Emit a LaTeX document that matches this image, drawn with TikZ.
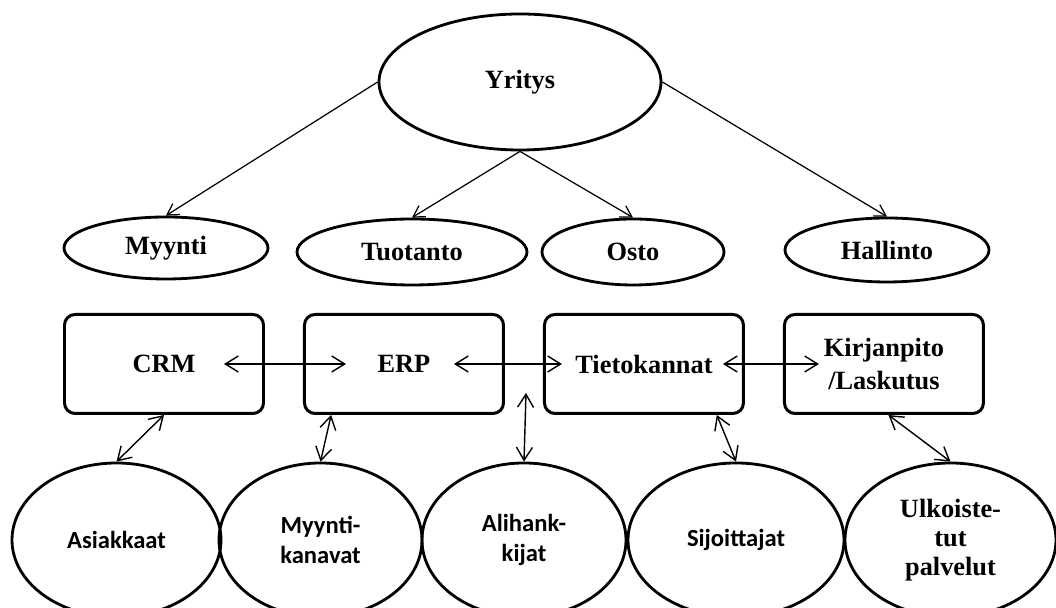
\documentclass[tikz,border=0pt]{standalone}
\usepackage{fontspec}
\setmainfont{Liberation Serif}
\newfontfamily\calfont{Carlito}
\usepackage{tikz}
\usetikzlibrary{arrows.meta, positioning, shapes.geometric}
\newcommand{\topfont}{\fontsize{15}{18.5}\selectfont\bfseries}
\newcommand{\botfont}{\calfont\fontsize{14}{17.5}\selectfont\bfseries}
\tikzset{
    oval/.style={ellipse, draw=black, line width=1.6pt, inner sep=0pt, align=center, font=\topfont},
    bigoval/.style={oval, minimum height=3.08cm, font=\botfont},
    box/.style={rectangle, draw=black, line width=1.7pt, rounded corners=6pt, minimum width=3.98cm, minimum height=1.98cm, align=center, font=\topfont},
    arrow/.style={-{Straight Barb[length=2.2mm, width=2.6mm]}, line width=0.7pt, draw=black},
    dblarrow/.style={{Straight Barb[length=2.6mm, width=3.2mm]}-{Straight Barb[length=2.6mm, width=3.2mm]}, line width=0.8pt, draw=black}
}

\begin{document}
\begin{tikzpicture}[node distance=0.76cm]
        \useasboundingbox (0,0) rectangle (21.12,12.16);

        \node[oval, minimum width=5.64cm, minimum height=2.72cm] (yritys) at (10.40,10.52) {Yritys};
        \node[oval, minimum width=4.08cm, minimum height=1.24cm] (myynti) at (3.32,7.20) {Myynti};
        \node[oval, minimum width=4.60cm, minimum height=1.32cm] (tuotanto) at (8.24,7.12) {Tuotanto};
        \node[oval, minimum width=3.64cm, minimum height=1.32cm] (osto) at (12.66,7.12) {Osto};
        \node[oval, minimum width=4.08cm, minimum height=1.28cm] (hallinto) at (17.74,7.16) {Hallinto};

        \draw[arrow] (yritys.west) -- (myynti.north);
        \draw[arrow] (yritys.south) -- (tuotanto.north);
        \draw[arrow] (yritys.south) -- (osto.north);
        \draw[arrow] (yritys.east) -- (hallinto.north);

        \node[box] (crm) at (3.28,4.88) {CRM};
        \node[box, right=of crm] (erp) {ERP};
        \node[box, right=of erp] (tieto) {Tietokannat};
        \node[box, right=of tieto] (kirjanpito) {Kirjanpito\\/Laskutus};

        \draw[dblarrow, shorten <=1.2cm, shorten >=1.16cm] (crm.center) -- (erp.center);
        \draw[dblarrow, shorten <=1.0cm, shorten >=1.64cm] (erp.center) -- (tieto.center);
        \draw[dblarrow, shorten <=1.58cm, shorten >=1.3cm] (tieto.center) -- (kirjanpito.center);

        \node[bigoval, minimum width=4.18cm] (asiakkaat) at (2.33,1.36) {Asiakkaat};
        \node[bigoval, minimum width=4.06cm] (kanavat) at (6.41,1.36) {Myynti-\\kanavat};
        \node[bigoval, minimum width=4.08cm] (alihank) at (10.48,1.36) {Alihank-\\kijat};
        \node[bigoval, minimum width=4.32cm] (sijoittajat) at (14.72,1.36) {Sijoittajat};
        \node[bigoval, minimum width=4.22cm, font=\fontsize{15}{16.5}\selectfont\bfseries] (ulko) at (19.01,1.36) {Ulkoiste-\\tut\\palvelut};

        \coordinate (alitop) at (10.52,4.30);
        \draw[dblarrow] (crm.south) -- (asiakkaat.north);
        \draw[dblarrow] (erp.-145) -- (kanavat.north);
        \draw[dblarrow] (alitop) -- (alihank.north);
        \draw[dblarrow] (tieto.-35) -- (sijoittajat.north);
        \draw[dblarrow] (kirjanpito.-85) -- (ulko.north);
    \end{tikzpicture}
\end{document}
